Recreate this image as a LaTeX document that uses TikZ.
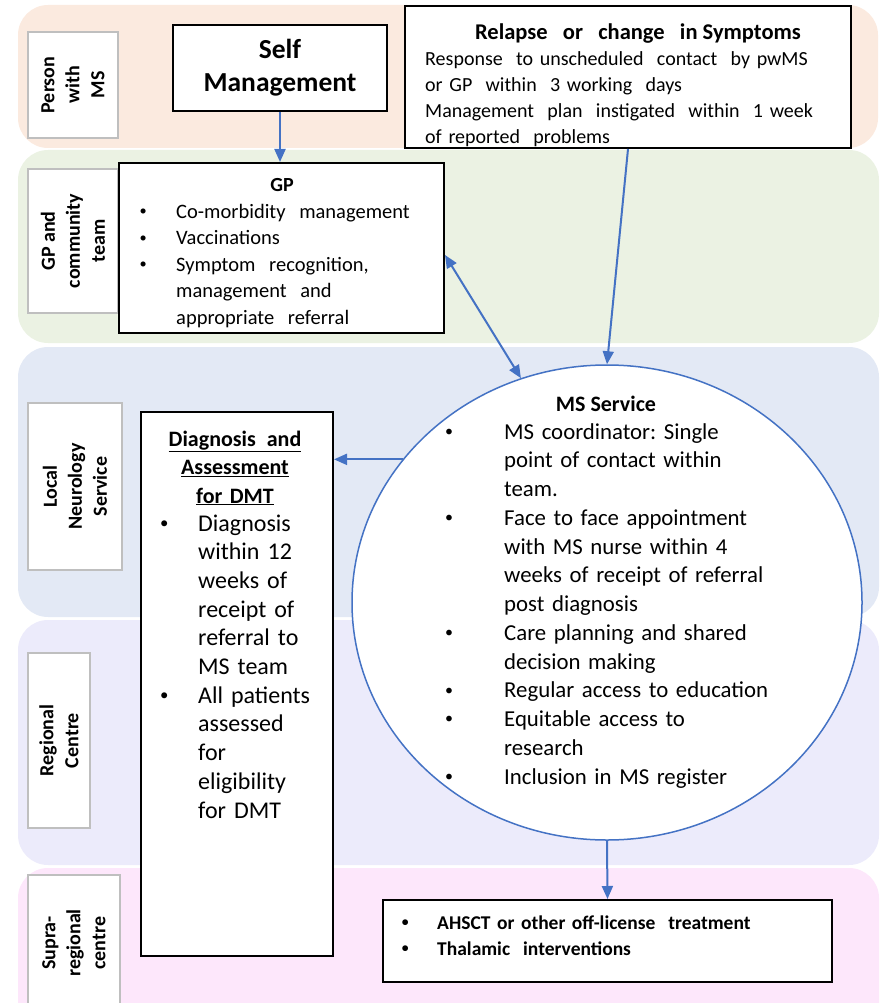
\documentclass[tikz,border=0pt]{standalone}
\usepackage{fontspec}
\usepackage{graphicx}
\setmainfont{Carlito}
\usetikzlibrary{shapes.geometric,arrows.meta}

\definecolor{bandpeach}{HTML}{FBEADF}
\definecolor{bandgreen}{HTML}{EBF2E3}
\definecolor{bandblue}{HTML}{E3E9F5}
\definecolor{bandlav}{HTML}{ECEBFB}
\definecolor{bandpink}{HTML}{FDE7FB}
\definecolor{lanegrey}{HTML}{BFBFBF}
\definecolor{linkblue}{HTML}{4472C4}

% small bullet centred in a 6pt slot
\newcommand\smallbul{\hbox to 6pt{\hss\raisebox{0.11em}{\scalebox{0.7}{\textbullet}}\hss}}
% bullet item with hanging indent: #1 = indent (pt), #2 = lines
\newcommand\bul[2]{\noindent\hangindent=#1pt\hangafter=1\hbox to #1pt{\smallbul\hfil}#2\par}

\begin{document}
\frenchspacing
\begin{tikzpicture}[x=1pt,y=-1pt,
  lanebox/.style={draw=lanegrey, line width=1.8pt, fill=white, rotate=90, align=center,
    font=\fontsize{20}{25}\selectfont\bfseries, inner sep=0pt},
  box/.style={draw=black, line width=2pt, fill=white, inner sep=0pt},
  arr/.style={draw=linkblue, line width=2pt, -{Triangle[length=13pt,width=11pt]}},
  txt/.style={inner sep=0pt, anchor=base west, align=left},
  ttl/.style={inner sep=0pt, anchor=base, font=\bfseries}]
\useasboundingbox (0,0) rectangle (879,1003);
\clip (0,0) rectangle (879,1003);

% swim-lane bands
\fill[bandpeach, rounded corners=30pt] (18,5) rectangle (878,148);
\fill[bandgreen, rounded corners=30pt] (18,150) rectangle (879,343);
\fill[bandblue, rounded corners=30pt] (18,347) rectangle (879,617);
\fill[bandlav, rounded corners=30pt] (18,620) rectangle (879,865);
\fill[bandpink, rounded corners=30pt] (18,868) rectangle (879,1040);

% lane labels
\node[lanebox, minimum width=106pt, minimum height=90pt] (lane1) at (73,85) {Person\\with\\MS};
\node[lanebox, minimum width=144pt, minimum height=90pt] (lane2) at (73,241) {GP and\\community\\team};
\node[lanebox, minimum width=167pt, minimum height=94pt] (lane3) at (75,486.5) {Local\\Neurology\\Service};
\node[lanebox, minimum width=175pt, minimum height=62pt] (lane4) at (59,740.5) {Regional\\Centre};
\node[lanebox, minimum width=136pt, minimum height=92pt] (lane5) at (74,943) {Supra-\\regional\\centre};

% self management
\node[box, minimum width=214pt, minimum height=86pt, align=center,
  font=\fontsize{27.5}{33}\selectfont\bfseries] (self) at (280,68) {Self\\Management};

% relapse box
\node[box, minimum width=446pt, minimum height=142pt] (relapse) at (628,77) {};
\node[ttl, font=\fontsize{22.5}{26}\selectfont\bfseries] (relapseT) at (638,40) {Relapse\ \ \ or\ \ \ change\ \ \ in Symptoms};
\node[txt, text width=430pt, font=\fontsize{20}{26}\selectfont] (relapseB) at (425,66)
  {Response \ to unscheduled \ contact \ by pwMS\\or GP \ within \ 3 working \ days\\Management \ plan \ instigated \ within \ 1 week\\of reported \ problems};

% GP box
\node[box, minimum width=325pt, minimum height=170pt] (gp) at (281.5,248) {};
\node[ttl, font=\fontsize{20}{26}\selectfont\bfseries] (gpT) at (282,192) {GP};
\node[txt, text width=300pt, font=\fontsize{20.5}{26.5}\selectfont] (gpL) at (140,218) {%
  \bul{36}{Co-morbidity \ management}%
  \bul{36}{Vaccinations}%
  \bul{36}{Symptom \ recognition,\newline management \ and\newline appropriate \ referral}};

% diagnosis box
\node[box, minimum width=192pt, minimum height=544pt] (diag) at (237,684) {};
\node[inner sep=0pt, anchor=base, text width=190pt, align=center,
  font=\fontsize{22}{28.5}\selectfont\bfseries] (diagT) at (235,446)
  {\underline{Diagnosis \,and}\\\underline{Assessment}\\\underline{for DMT}};
\node[txt, text width=170pt, font=\fontsize{24}{28.7}\selectfont] (diagL) at (161,531) {%
  \bul{37}{Diagnosis\newline within 12\newline weeks of\newline receipt of\newline referral to\newline MS team}%
  \bul{37}{All patients\newline assessed\newline for\newline eligibility\newline for DMT}};

% MS service
\node[ellipse, draw=linkblue, line width=1.5pt, fill=white, inner sep=0pt,
  minimum width=510pt, minimum height=475pt] (ms) at (607,602.5) {};
\node[ttl, font=\fontsize{22}{28}\selectfont\bfseries] (msT) at (606,411) {MS Service};
\node[txt, text width=340pt, font=\fontsize{22.8}{28.75}\selectfont] (msL) at (446,439) {%
  \bul{58}{MS coordinator: Single\newline point of contact within\newline team.}%
  \bul{58}{Face to face appointment\newline with MS nurse within 4\newline weeks of receipt of referral\newline post diagnosis}%
  \bul{58}{Care planning and shared\newline decision making}%
  \bul{58}{Regular access to education}%
  \bul{58}{Equitable access to\newline research}%
  \bul{58}{Inclusion in MS register}};

% supra-regional treatments
\node[box, minimum width=449pt, minimum height=82pt] (supra) at (607.5,941) {};
\node[txt, text width=420pt, font=\fontsize{19.5}{26}\selectfont\bfseries] (supraL) at (402,929) {%
  \bul{35}{AHSCT or other off-license \ treatment}%
  \bul{35}{Thalamic \ interventions}};

% connectors
\draw[arr] (self.south) -- (self.south |- gp.north);
\draw[arr] (relapse.south) -- (ms.north);
\draw[arr, {Triangle[length=13pt,width=11pt]}-{Triangle[length=13pt,width=11pt]}] ([yshift=-7pt]gp.east) -- (ms.111.6);
\draw[arr] (ms.145.3) -- (ms.145.3 -| diag.east);
\draw[arr] (ms.south) -- (supra.north);
\end{tikzpicture}
\end{document}
